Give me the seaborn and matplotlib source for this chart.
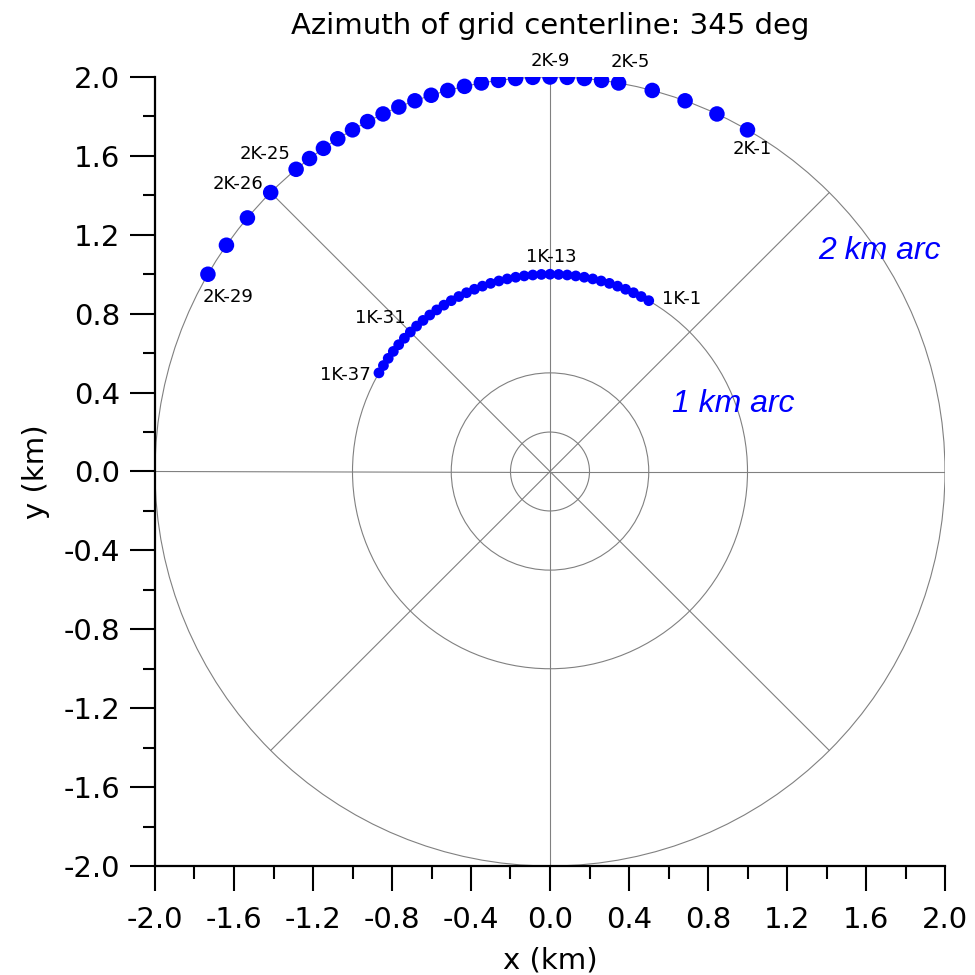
import numpy as np
import pandas as pd
import matplotlib
matplotlib.use("Agg")
import matplotlib.pyplot as plt
from matplotlib.patches import Circle
from matplotlib.ticker import MultipleLocator, FormatStrFormatter
import seaborn as sns

# ---- data: receptor angles (deg, counter-clockwise from +x) ----
arc1_radius = 1.0
arc1_angles = [60.0, 62.5, 65.0, 67.5, 70.0, 72.5, 75.0, 77.5, 80.0, 82.5,
               85.0, 87.5, 90.0, 92.5, 95.0, 97.5, 100.0, 102.5, 105.0, 107.5,
               110.0, 112.5, 115.0, 117.5, 120.0, 122.5, 125.0, 127.5, 130.0, 132.5,
               135.0, 137.5, 140.0, 142.5, 145.0, 147.5, 150.0]
arc2_radius = 2.0
arc2_angles = [60.0, 65.0, 70.0, 75.0, 80.0, 82.5, 85.0, 87.5, 90.0, 92.5,
               95.0, 97.5, 100.0, 102.5, 105.0, 107.5, 110.0, 112.5, 115.0, 117.5,
               120.0, 122.5, 125.0, 127.5, 130.0, 135.0, 140.0, 145.0, 150.0]
arc1_labels = {1: "1K-1", 13: "1K-13", 31: "1K-31", 37: "1K-37"}
arc2_labels = {1: "2K-1", 5: "2K-5", 9: "2K-9", 25: "2K-25", 26: "2K-26", 29: "2K-29"}
grid_radii = [0.2, 0.5, 1.0, 2.0]
spoke_angles = [0, 45, 90, 135, 180, 225, 270, 315]
title = "Azimuth of grid centerline: 345 deg"

def to_df(r, angs, arc):
    a = np.radians(np.array(angs))
    return pd.DataFrame({"x": r * np.cos(a), "y": r * np.sin(a), "arc": arc,
                         "idx": np.arange(1, len(angs) + 1)})

df1 = to_df(arc1_radius, arc1_angles, "1 km")
df2 = to_df(arc2_radius, arc2_angles, "2 km")

sns.set_style("white")
plt.rcParams['font.family'] = ['DejaVu Sans']
plt.rcParams.update({"text.color": "black", "axes.labelcolor": "black",
                     "xtick.color": "black", "ytick.color": "black"})
fig = plt.figure(figsize=(9.75, 9.75), dpi=100)
ax = fig.add_axes([155/975, 109/975, 790/975, 789/975])

grey = "#808080"
for r in grid_radii:
    ax.add_patch(Circle((0, 0), r, fill=False, ec=grey, lw=0.8, zorder=1))
for s in spoke_angles:
    t = np.radians(s)
    ax.plot([0, 2 * np.cos(t)], [0, 2 * np.sin(t)], color=grey, lw=0.8, zorder=1)

sns.scatterplot(data=df2, x="x", y="y", color="#0000ff", s=125, edgecolor="none",
                ax=ax, zorder=3, legend=False)
sns.scatterplot(data=df1, x="x", y="y", color="#0000ff", s=60, edgecolor="none",
                ax=ax, zorder=3, legend=False)

lab_fs = 13
# offsets in image pixels: dx right, dy down
offs2 = {1: (5, 19), 5: (12, -21), 9: (0, -16), 25: (-31, -15), 26: (-33, -9), 29: (20, 23)}
for i, txt in arc2_labels.items():
    row = df2.iloc[i - 1]
    dx, dy = offs2[i]
    ax.annotate(txt, (row.x, row.y), xytext=(dx, -dy), textcoords="offset pixels",
                ha="center", va="center", fontsize=lab_fs)
offs1 = {1: (33, -2), 13: (1, -17), 31: (-30, -14), 37: (-34, 2)}
for i, txt in arc1_labels.items():
    row = df1.iloc[i - 1]
    dx, dy = offs1[i]
    ax.annotate(txt, (row.x, row.y), xytext=(dx, -dy), textcoords="offset pixels",
                ha="center", va="center", fontsize=lab_fs)

ax.text(1.67, 1.12, "2 km arc", color="#0000ff", fontsize=23, style="italic",
        family="Liberation Sans", ha="center", va="center")
ax.text(0.93, 0.34, "1 km arc", color="#0000ff", fontsize=23, style="italic",
        family="Liberation Sans", ha="center", va="center")

ax.set_xlim(-2, 2)
ax.set_ylim(-2, 2)
ax.set_aspect("auto")
ax.xaxis.set_major_locator(MultipleLocator(0.4))
ax.yaxis.set_major_locator(MultipleLocator(0.4))
ax.xaxis.set_minor_locator(MultipleLocator(0.2))
ax.yaxis.set_minor_locator(MultipleLocator(0.2))
ax.xaxis.set_major_formatter(FormatStrFormatter("%.1f"))
ax.yaxis.set_major_formatter(FormatStrFormatter("%.1f"))
ax.tick_params(which="major", direction="out", length=18, width=1.5, labelsize=21,
               bottom=True, left=True, color="black")
ax.tick_params(which="minor", direction="out", length=9, width=1.5,
               bottom=True, left=True, color="black")
ax.tick_params(axis="x", which="major", pad=11)
ax.tick_params(axis="y", which="major", pad=7)
for sp in ["top", "right"]:
    ax.spines[sp].set_visible(False)
for sp in ["left", "bottom"]:
    ax.spines[sp].set_color("black")
    ax.spines[sp].set_linewidth(1.6)

ax.set_xlabel("x (km)", fontsize=21, labelpad=9)
ax.set_ylabel("y (km)", fontsize=21, labelpad=10)
ax.set_title(title, fontsize=21, pad=31)

fig.savefig("out.png", dpi=100)
